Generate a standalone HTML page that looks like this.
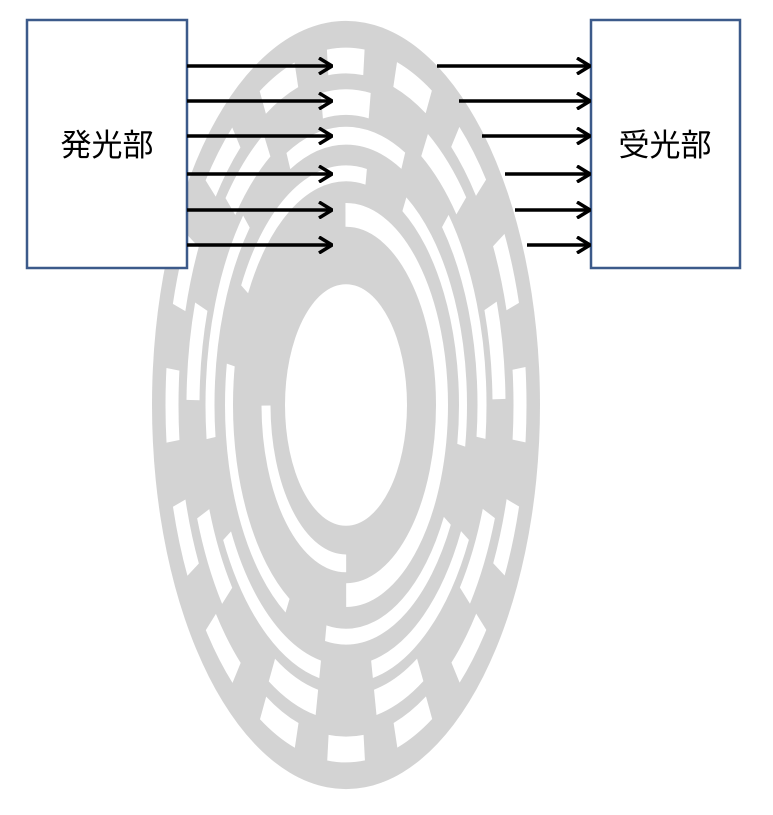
<html><body style="margin:0;background:#fff">
<svg width="773" height="815" xmlns="http://www.w3.org/2000/svg">
<defs><marker id="a" markerWidth="16" markerHeight="18" refX="15" refY="9" orient="auto" markerUnits="userSpaceOnUse"><path d="M2,1 L15,9 L2,17" fill="none" stroke="#000" stroke-width="3.5"/></marker></defs>
<g transform="translate(346,405) scale(1,1.98)">
<circle r="194" fill="#d3d3d3"/>
<circle r="61" fill="#fff"/>
<circle r="174" fill="none" stroke="#fff" stroke-width="13" pathLength="360" stroke-dasharray="12 10.5" stroke-dashoffset="-264"/>
<circle r="153" fill="none" stroke="#fff" stroke-width="13" pathLength="360" stroke-dasharray="18 22" stroke-dashoffset="-261"/>
<circle r="136" fill="none" stroke="#fff" stroke-width="9" pathLength="360" stroke-dasharray="50 22" stroke-dashoffset="-245"/>
<circle r="117" fill="none" stroke="#fff" stroke-width="8" pathLength="360" stroke-dasharray="70 20" stroke-dashoffset="-300"/>
<circle r="96" fill="none" stroke="#fff" stroke-width="12" pathLength="360" stroke-dasharray="180 180" stroke-dashoffset="90"/>
<circle r="80" fill="none" stroke="#fff" stroke-width="9" pathLength="360" stroke-dasharray="90 270" stroke-dashoffset="-90"/>
</g>
<rect x="27" y="20" width="160" height="248" fill="#fff" stroke="#3c5a8a" stroke-width="2.5"/>
<rect x="591" y="20" width="149" height="248" fill="#fff" stroke="#3c5a8a" stroke-width="2.5"/>
<text x="107" y="156" font-size="31" text-anchor="middle" font-family="Liberation Sans,Noto Sans CJK JP,sans-serif">発光部</text>
<text x="665" y="156" font-size="31" text-anchor="middle" font-family="Liberation Sans,Noto Sans CJK JP,sans-serif">受光部</text>
<g stroke="#000" stroke-width="3.5" marker-end="url(#a)">
<line x1="187" y1="66" x2="332" y2="66"/><line x1="187" y1="101" x2="332" y2="101"/><line x1="187" y1="136" x2="332" y2="136"/><line x1="187" y1="174" x2="332" y2="174"/><line x1="187" y1="210" x2="332" y2="210"/><line x1="187" y1="245" x2="332" y2="245"/>
<line x1="437" y1="66" x2="590" y2="66"/><line x1="459" y1="101" x2="590" y2="101"/><line x1="482" y1="136" x2="590" y2="136"/><line x1="505" y1="174" x2="590" y2="174"/><line x1="515" y1="210" x2="590" y2="210"/><line x1="527" y1="245" x2="590" y2="245"/>
</g>
</svg>
</body></html>
